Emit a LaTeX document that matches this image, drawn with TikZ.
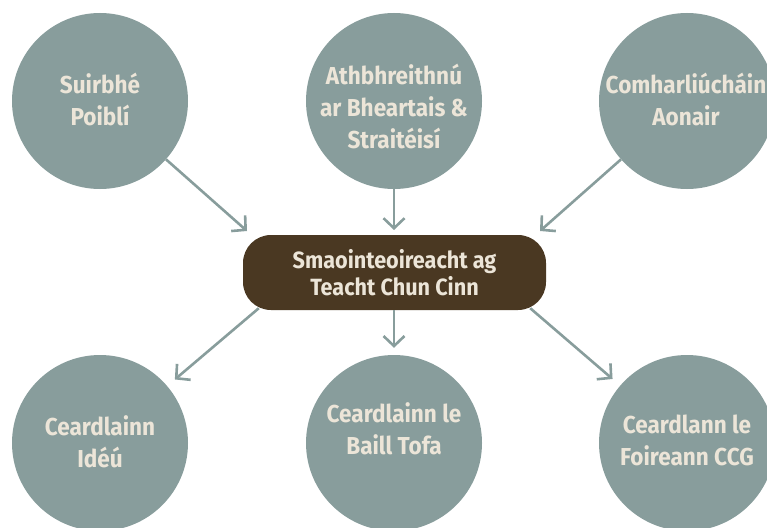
\documentclass[tikz,border=0pt]{standalone}
\usepackage{fontspec}
\setmainfont{Fira Sans}[FakeStretch=0.92]
\usetikzlibrary{arrows.meta}
\definecolor{circ}{HTML}{889D9C}
\definecolor{txt}{HTML}{ECE5D8}
\definecolor{brn}{HTML}{4A3822}
\begin{document}
\begin{tikzpicture}[x=1pt,y=-1pt,
  bubble/.style={circle, fill=circ, minimum size=176pt, inner sep=0pt},
  lbl/.style={text=txt, font=\bfseries\fontsize{24.5}{32}\selectfont, align=center, inner sep=0pt},
  hub/.style={rectangle, rounded corners=28pt, fill=brn, minimum width=303pt, minimum height=75pt,
              text=txt, font=\bfseries\fontsize{23.5}{27}\selectfont, align=center},
  link/.style={draw=circ, line width=2.6pt, -{Straight Barb[length=10pt,width=21pt]}}]
\useasboundingbox (0,0) rectangle (767,527);
\clip (0,0) rectangle (767,527);
% circles
\node[bubble] (c1) at (100,101) {};
\node[bubble] (c2) at (394,101) {};
\node[bubble] (c3) at (687,101) {};
\node[bubble] (c4) at (100,443) {};
\node[bubble] (c5) at (394,443) {};
\node[bubble] (c6) at (687,443) {};
% labels
\node[lbl] (l1) at (100,99) {Suirbhé\\Poiblí};
\node[lbl] (l2) at (394,106) {Athbhreithnú\\ar Bheartais \&\\Straitéisí};
\node[lbl] (l3) at (686,99) {Comharliúcháin\\Aonair};
\node[lbl] (l4) at (100,442) {Ceardlainn\\Idéú};
\node[lbl] (l5) at (394,429) {Ceardlainn le\\Baill Tofa};
\node[lbl] (l6) at (687,440) {Ceardlann le\\Foireann CCG};
% hub
\node[hub] (hub) at (394.5,272.5) {Smaointeoireacht ag\\Teacht Chun Cinn};
% arrow ends
\coordinate (t1) at (247,231);
\coordinate (t2) at (394,230);
\coordinate (t3) at (540,231);
\coordinate (s4) at ([xshift=16pt,yshift=2pt]hub.south west);
\coordinate (s5) at (394,310);
\coordinate (s6) at ([xshift=-16pt,yshift=2pt]hub.south east);
% connectors
\draw[link] (c1) -- (t1);
\draw[link] (c2) -- (t2);
\draw[link] (c3) -- (t3);
\draw[link, shorten >=10pt] (s4) -- (c4);
\draw[link, shorten >=7pt] (s5) -- (c5);
\draw[link, shorten >=10pt] (s6) -- (c6);
\end{tikzpicture}
\end{document}
